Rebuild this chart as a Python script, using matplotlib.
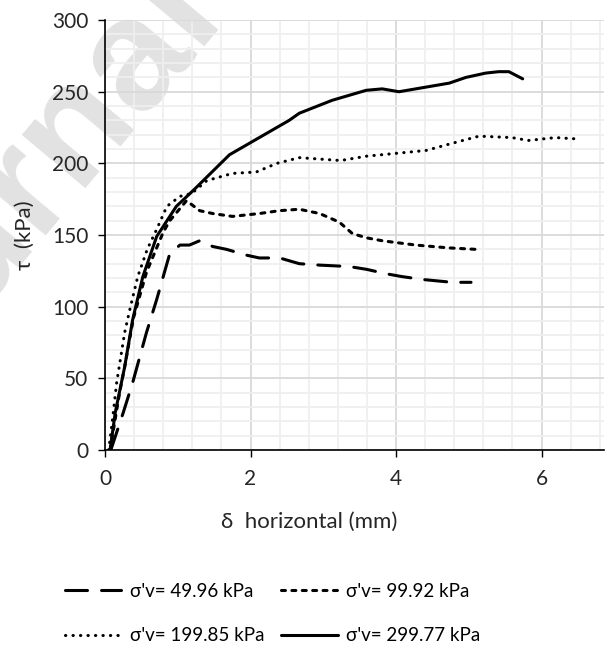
import numpy as np
import matplotlib.pyplot as plt
from matplotlib.ticker import MultipleLocator

# shear stress vs horizontal displacement, four normal stresses
x_50 = [0.08, 0.25, 0.38, 0.57, 0.71, 0.89, 1.03, 1.16, 1.3, 1.48, 1.67, 1.94, 2.12, 2.4, 2.67, 2.95, 3.36, 3.6, 3.86, 4.08, 4.36, 4.77, 5.03]
t_50 = [0, 26, 47, 82, 105, 137, 143, 143, 146, 142, 140, 136, 134, 134, 130, 129, 128, 126, 123, 121, 119, 117, 117]

x_100 = [0.07, 0.2, 0.27, 0.39, 0.57, 0.8, 0.89, 1.12, 1.3, 1.48, 1.75, 2.12, 2.4, 2.67, 2.95, 3.22, 3.4, 3.6, 3.81, 4.27, 4.73, 5.1]
t_100 = [0, 40, 58, 92, 124, 152, 160, 174, 167, 165, 163, 165, 167, 168, 165, 159, 151, 148, 146, 143, 141, 140]

x_200 = [0.05, 0.1, 0.16, 0.27, 0.35, 0.45, 0.58, 0.71, 0.85, 1.03, 1.19, 1.4, 1.75, 2.08, 2.36, 2.67, 2.95, 3.24, 3.59, 4.0, 4.41, 4.77, 5.14, 5.59, 5.82, 6.19, 6.51]
t_200 = [0, 20, 47, 82, 100, 121, 140, 154, 170, 177, 179, 188, 193, 194, 200, 204, 203, 202, 205, 207, 209, 214, 219, 218, 216, 218, 217]

x_300 = [0.07, 0.14, 0.27, 0.38, 0.52, 0.71, 0.98, 1.21, 1.71, 2.12, 2.53, 2.67, 3.12, 3.59, 3.81, 4.04, 4.27, 4.73, 4.96, 5.23, 5.41, 5.55, 5.74]
t_300 = [0, 26, 58, 91, 121, 149, 170, 181, 206, 218, 230, 235, 244, 251, 252, 250, 252, 256, 260, 263, 264, 264, 259]

labels = ["σ'v= 49.96 kPa", "σ'v= 99.92 kPa", "σ'v= 199.85 kPa", "σ'v= 299.77 kPa"]

plt.rcParams['font.family'] = ['Lato', 'DejaVu Sans']

fig = plt.figure(figsize=(6.06, 6.48), dpi=100)

# faint watermark behind everything
fig.text(0.069, 0.634, 'Journal', fontsize=114, fontweight='bold', family='Liberation Sans',
         color='#e2e2e2', rotation=50, ha='center', va='baseline',
         rotation_mode='anchor', zorder=-1)

ax = fig.add_axes([0.1733, 0.3056, 0.8237, 0.6634])
ax.patch.set_alpha(0)

lw = 2.2
l1, = ax.plot(x_50, t_50, color='black', lw=lw, ls=(0, (7.2, 4.6)), dash_capstyle='round')
l2, = ax.plot(x_100, t_100, color='black', lw=lw, ls=(0, (1.3, 2.1)), dash_capstyle='round')
l3, = ax.plot(x_200, t_200, color='black', lw=lw, ls=(0, (0.1, 2.35)), dash_capstyle='round')
l4, = ax.plot(x_300, t_300, color='black', lw=lw, ls='-', solid_capstyle='round')

ax.set_xlim(0, 6.86)
ax.set_ylim(0, 300)
ax.xaxis.set_major_locator(MultipleLocator(2))
ax.xaxis.set_minor_locator(MultipleLocator(0.4))
ax.yaxis.set_major_locator(MultipleLocator(50))
ax.yaxis.set_minor_locator(MultipleLocator(10))

ax.grid(which='minor', color='#efefef', lw=1.3)
ax.grid(which='major', color='#d9d9d9', lw=1.3)
ax.set_axisbelow(True)

for s in ['top', 'right']:
    ax.spines[s].set_visible(False)
for s in ['left', 'bottom']:
    ax.spines[s].set_linewidth(1.2)

ax.tick_params(which='major', length=5, width=1.0, direction='out', labelsize=15, pad=9, colors='black')
ax.tick_params(which='minor', length=0)
ax.tick_params(axis='y', pad=7)
ax.tick_params(labelcolor='#262626')

ax.set_xlabel('δ  horizontal (mm)', fontsize=16, color='#262626')
ax.xaxis.set_label_coords(0.41, -0.145)
ax.set_ylabel('τ  (kPa)', fontsize=16, color='#262626')
ax.yaxis.set_label_coords(-0.14, 0.5)

# legend filled row by row like the original
fig.legend([l1, l3, l2, l4], [labels[0], labels[2], labels[1], labels[3]],
           loc='center', bbox_to_anchor=(0.45, 0.053), ncol=2, frameon=False,
           fontsize=13.5, handlelength=3.0, handletextpad=0.45, columnspacing=0.9,
           labelspacing=1.45)

fig.savefig('out.png', dpi=100)
